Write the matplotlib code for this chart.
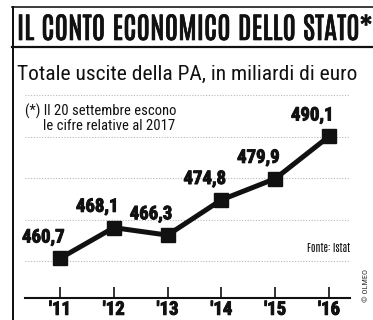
import matplotlib
matplotlib.use("Agg")
import matplotlib.pyplot as plt
from matplotlib.lines import Line2D
from matplotlib import patheffects as pe

# data
years = [2011, 2012, 2013, 2014, 2015, 2016]
year_labels = ["'11", "'12", "'13", "'14", "'15", "'16"]
spending = [460.7, 468.1, 466.3, 474.8, 479.9, 490.1]
value_labels = ["460,7", "468,1", "466,3", "474,8", "479,9", "490,1"]
grid_values = [460, 470, 480, 490, 500]

title = "IL CONTO ECONOMICO DELLO STATO*"
subtitle = "Totale uscite della PA, in miliardi di euro"
note_1 = "(*) Il 20 settembre escono"
note_2 = "le cifre relative al 2017"
source = "Fonte: Istat"
credit = "© OLMEO"

HEAD = ["Antonio", "Oswald", "Liberation Sans"]
COND = ["Roboto Condensed", "Liberation Sans"]
INK = "#111111"
heavy = [pe.withStroke(linewidth=0.7, foreground=INK)]

W, H = 373, 320
fig = plt.figure(figsize=(W / 100, H / 100), dpi=100)
fig.patch.set_facecolor("white")
r = fig.canvas.get_renderer()


def px(x, y):
    return x / W, 1 - y / H


def fit(t, width):
    # newspaper type is set to a measure: scale the font to the measured width
    w = t.get_window_extent(r).width
    t.set_fontsize(t.get_fontsize() * width / w)


# frame of the box
for xs, ys, lw in [((12.5, 12.5), (7, 320), 2.0),
                   ((12, 373), (7, 7), 1.6),
                   ((12, 373), (47, 47), 2.2)]:
    fig.add_artist(Line2D([x / W for x in xs], [1 - y / H for y in ys],
                          color=INK, lw=lw * 0.72, transform=fig.transFigure))

t = fig.text(*px(17, 40), title, family=HEAD, fontweight="bold",
             fontsize=20, color=INK, ha="left", va="baseline",
             path_effects=[pe.withStroke(linewidth=0.5, foreground=INK)])
fit(t, 356)

t = fig.text(*px(17, 80), subtitle, family=COND, fontsize=16, color=INK,
             ha="left", va="baseline")
fit(t, 341)

ax = fig.add_axes([25 / W, 22 / H, 325 / W, 210 / H])
ax.set_facecolor("none")
ax.plot(years, spending, color=INK, lw=3.6, marker="s", markersize=10.5,
        markeredgecolor=INK, markerfacecolor=INK, zorder=3)

for x, v, s in zip(years, spending, value_labels):
    ax.annotate(s, (x, v), xytext=(-12, 15), textcoords="offset points",
                ha="center", va="center", family=COND, fontweight="bold",
                fontsize=13.5, color=INK, path_effects=heavy)

ax.set_xlim(2010.35, 2016.39)
ax.set_ylim(451.15, 501.75)
ax.set_xticks(years)
ax.set_xticklabels(year_labels, family=COND, fontweight="bold", fontsize=13.5,
                   color=INK, path_effects=heavy)
ax.set_yticks(grid_values)
ax.tick_params(axis="y", left=False, labelleft=False)
ax.tick_params(axis="x", direction="in", length=8, width=1.2, color=INK, pad=2)
ax.grid(axis="y", color="#b8b8b8", lw=0.8, ls=(0, (1, 1.5)))
for side in ["top", "right", "left"]:
    ax.spines[side].set_visible(False)
ax.spines["bottom"].set_linewidth(1.5)
ax.spines["bottom"].set_color(INK)

fig.text(*px(25, 111), note_1, family=COND, fontsize=10.5, color=INK,
         ha="left", va="center")
fig.text(*px(43, 126), note_2, family=COND, fontsize=10.5, color=INK,
         ha="left", va="center")
t = fig.text(*px(350, 248), source, family=HEAD, fontweight="bold", fontsize=9,
             color=INK, ha="right", va="center")
fit(t, 43)
fig.text(*px(366, 285), credit, family=COND, fontsize=6, color="#333333",
         rotation=90, ha="center", va="center")

fig.savefig("out.png", dpi=100)
